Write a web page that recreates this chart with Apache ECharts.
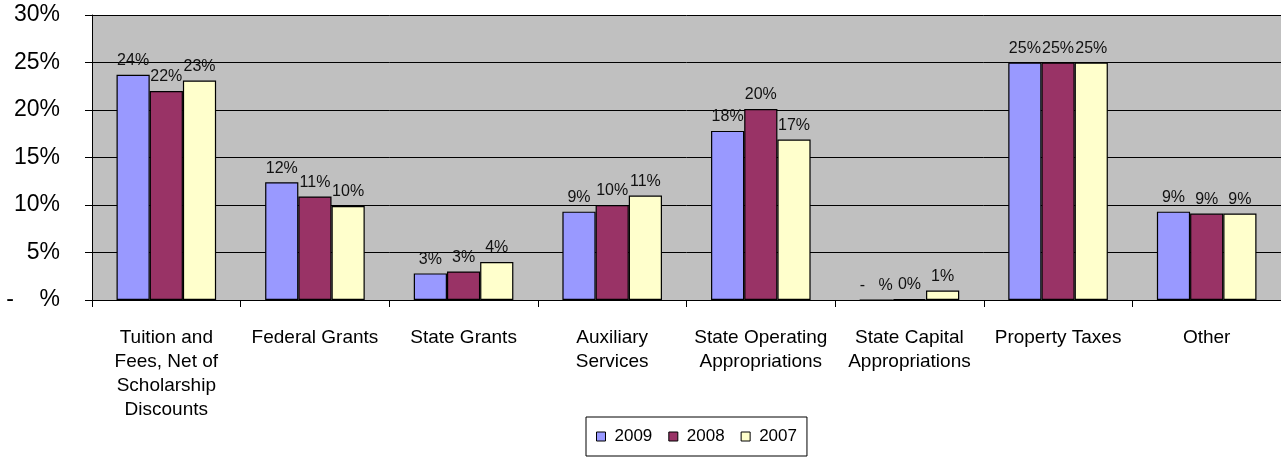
<!DOCTYPE html>
<html>
<head>
<meta charset="utf-8">
<script src="https://cdn.jsdelivr.net/npm/echarts@6/dist/echarts.min.js"></script>
<style>
  html, body { margin: 0; padding: 0; background: #ffffff; }
  #chart { width: 1281px; height: 460px; }
</style>
</head>
<body>
<div id="chart"></div>
<script>
// Revenue sources as a share of total revenue, by fiscal year
const categories = [
  'Tuition and\nFees, Net of\nScholarship\nDiscounts',
  'Federal Grants',
  'State Grants',
  'Auxiliary\nServices',
  'State Operating\nAppropriations',
  'State Capital\nAppropriations',
  'Property Taxes',
  'Other'
];
const seriesNames = ['2009', '2008', '2007'];
const values2009 = [23.7, 12.4, 2.8, 9.3, 17.8, 0, 25.0, 9.3];
const values2008 = [22.0, 10.9, 3.0, 10.0, 20.1, 0.1, 25.0, 9.1];
const values2007 = [23.1, 9.9, 4.0, 11.0, 16.9, 1.0, 25.0, 9.1];
const yTicks = [0, 5, 10, 15, 20, 25, 30];

const colors = ['#9999FF', '#993366', '#FFFFCC'];
const font = '"Liberation Sans", Arial, sans-serif';

// Accounting-style percent: zero shows as a dash
function pct(v) {
  return v === 0 ? '-    %' : Math.round(v) + '%';
}
function barPct(v) {
  return v === 0 ? '-   %' : Math.round(v) + '%';
}

const chart = echarts.init(document.getElementById('chart'), null, { renderer: 'canvas' });

const seriesData = [values2009, values2008, values2007];

chart.setOption({
  animation: false,
  backgroundColor: '#ffffff',
  textStyle: { fontFamily: font },
  grid: {
    left: 92, right: 0, top: 15, bottom: 160,
    show: true,
    backgroundColor: '#C0C0C0',
    borderWidth: 0
  },
  legend: {
    data: seriesNames,
    left: 586,
    top: 417,
    icon: 'rect',
    itemWidth: 9,
    itemHeight: 9,
    itemGap: 16,
    padding: [11, 10, 11, 10],
    backgroundColor: '#ffffff',
    borderColor: '#000000',
    borderWidth: 1,
    borderRadius: 0,
    itemStyle: { borderColor: '#000000', borderWidth: 1 },
    textStyle: { fontSize: 17, color: '#000000', fontFamily: font, padding: [0, 0, 0, 4] }
  },
  xAxis: {
    type: 'category',
    data: categories,
    axisLine: { show: true, lineStyle: { color: '#000000', width: 1 } },
    axisTick: { show: true, alignWithLabel: false, length: 7, lineStyle: { color: '#000000' } },
    axisLabel: {
      interval: 0,
      margin: 26,
      fontSize: 19,
      lineHeight: 24,
      color: '#000000',
      fontFamily: font
    },
    splitLine: { show: false }
  },
  yAxis: {
    type: 'value',
    min: yTicks[0],
    max: yTicks[yTicks.length - 1],
    interval: yTicks[1] - yTicks[0],
    axisLine: { show: true, lineStyle: { color: '#000000', width: 1 } },
    axisTick: { show: true, length: 7, lineStyle: { color: '#000000' } },
    axisLabel: {
      margin: 32,
      fontSize: 23,
      color: '#000000',
      fontFamily: font,
      formatter: pct
    },
    splitLine: { show: true, lineStyle: { color: '#000000', width: 1 } }
  },
  series: seriesNames.map((name, i) => ({
    name: name,
    type: 'bar',
    data: seriesData[i],
    barGap: '0%',
    barCategoryGap: '33%',
    itemStyle: { color: colors[i], borderColor: '#000000', borderWidth: 1.2 },
    label: {
      show: true,
      position: 'top',
      distance: 6,
      fontSize: 16,
      color: '#111111',
      fontFamily: font,
      formatter: p => barPct(p.value)
    }
  }))
});
</script>
</body>
</html>
